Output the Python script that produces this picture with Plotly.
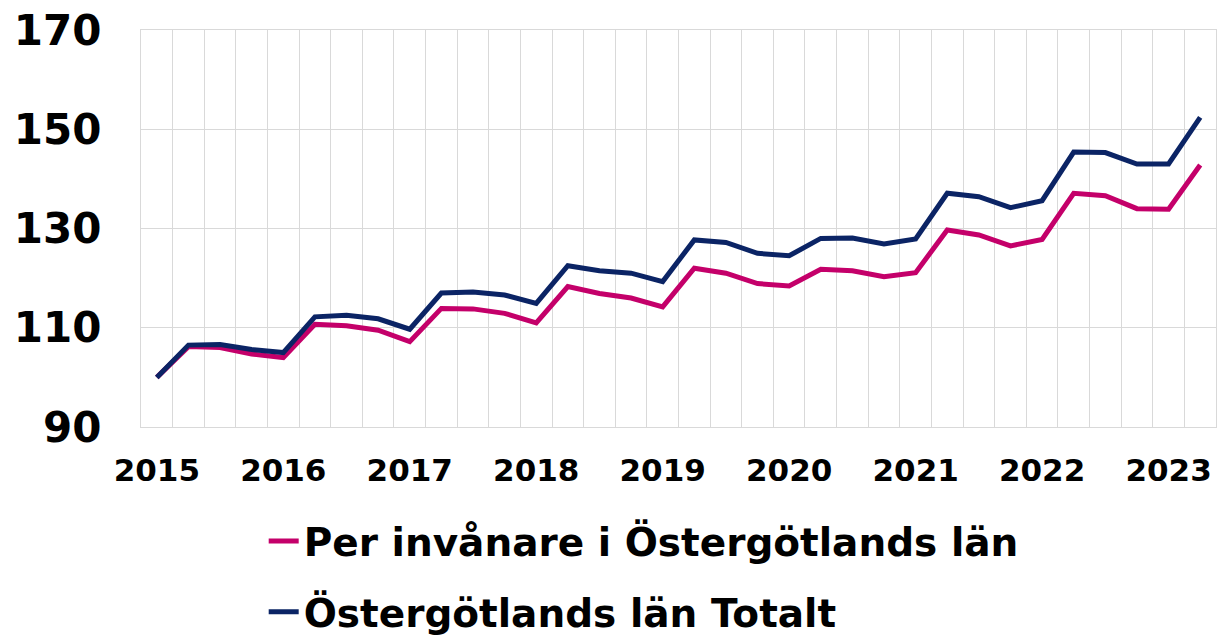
import plotly.graph_objects as go

years = list(range(2015, 2024))
quarters = [f"{y} K{q}" for y in years for q in range(1, 5)][:34]
year_labels = [str(y) for y in years]

per_invanare = [100.0, 106.2, 106.0, 104.7, 104.0, 110.7, 110.4, 109.5,
                107.2, 113.9, 113.8, 112.9, 111.0, 118.3, 116.9, 116.0,
                114.2, 122.0, 121.0, 118.9, 118.4, 121.8, 121.5, 120.3,
                121.1, 129.7, 128.7, 126.5, 127.8, 137.1, 136.6, 134.0,
                133.9, 142.8]
totalt = [100.0, 106.5, 106.6, 105.6, 105.0, 112.2, 112.5, 111.8,
          109.7, 117.0, 117.2, 116.6, 114.9, 122.5, 121.5, 121.0,
          119.3, 127.7, 127.2, 125.0, 124.5, 128.0, 128.1, 126.9,
          127.9, 137.1, 136.4, 134.2, 135.6, 145.4, 145.3, 143.0,
          143.0, 152.4]

series_names = ["Per invånare i Östergötlands län", "Östergötlands län Totalt"]
colors = ["#C4006A", "#0B2465"]

xpos = list(range(len(quarters)))
year_pos = [i for i, q in enumerate(quarters) if q.endswith("K1")]

fig = go.Figure()
fig.add_trace(go.Scatter(x=xpos, y=per_invanare, mode="lines", name=series_names[0],
                         text=quarters, line=dict(color=colors[0], width=5), legendgroup="a"))
fig.add_trace(go.Scatter(x=xpos, y=totalt, mode="lines", name=series_names[1],
                         text=quarters, line=dict(color=colors[1], width=5), legendgroup="b"))

grid = "#D9D9D9"
fig.update_layout(
    width=1218, height=638,
    margin=dict(l=141, r=2, t=30, b=211, autoexpand=False),
    paper_bgcolor="white", plot_bgcolor="white",
    font=dict(family="DejaVu Sans", color="black", weight="bold"),
    showlegend=True,
    legend=dict(xref="container", yref="container", x=0.2165, y=0.202,
                xanchor="left", yanchor="top", font=dict(size=39, weight="bold"),
                tracegroupgap=17, bgcolor="rgba(0,0,0,0)"),
    xaxis=dict(range=[-0.5, len(quarters) - 0.5], tickvals=year_pos, ticktext=year_labels,
               showgrid=False, ticks="", automargin=False,
               minor=dict(tick0=-0.5, dtick=1, showgrid=True, gridcolor=grid, gridwidth=1.3, ticks=""),
               showline=True, mirror=True, linecolor=grid, linewidth=1.3,
               tickfont=dict(size=31, weight="bold"), tickangle=0,
               ticklabelstandoff=16, zeroline=False),
    yaxis=dict(range=[90, 170], tickvals=[90, 110, 130, 150, 170], automargin=False,
               showgrid=True, gridcolor=grid, gridwidth=1.3, ticks="",
               showline=True, mirror=True, linecolor=grid, linewidth=1.3,
               tickfont=dict(size=42, weight="bold"), ticklabelstandoff=30,
               zeroline=False),
)

fig.write_html("out.html", config={"displayModeBar": False},
               post_script="document.body.style.margin='0px';document.body.style.overflow='hidden';")
